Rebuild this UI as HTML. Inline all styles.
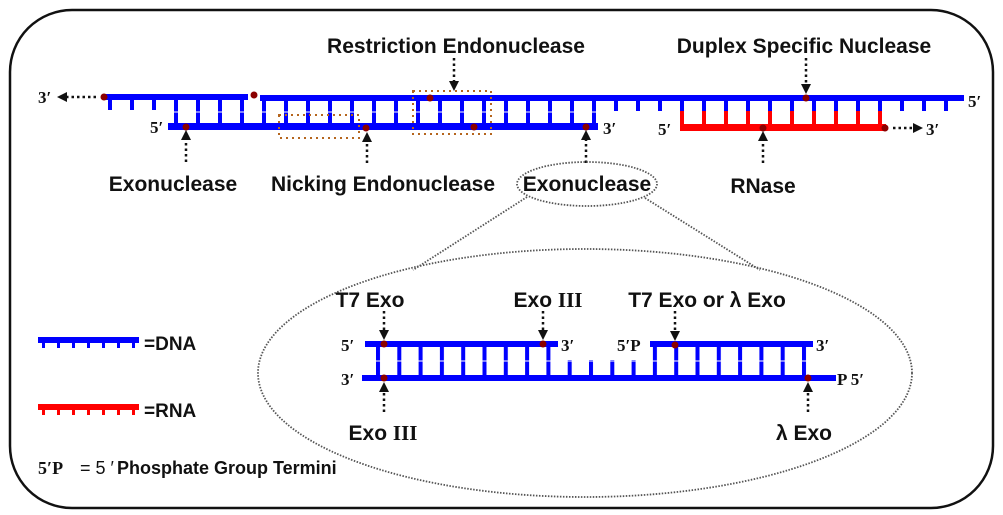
<!DOCTYPE html>
<html><head><meta charset="utf-8"><style>
html,body{margin:0;padding:0;background:#fff;}
svg{display:block;}
.l{font-family:"Liberation Sans",Arial,sans-serif;font-weight:bold;font-size:21px;fill:#111;}
.p{font-family:"Liberation Serif",serif;font-weight:bold;font-size:17px;fill:#111;}
</style></head><body>
<svg width="1003" height="515" viewBox="0 0 1003 515" xmlns="http://www.w3.org/2000/svg">
<defs>
<pattern id="tb" patternUnits="userSpaceOnUse" x="108" y="0" width="22" height="600"><rect x="0" y="0" width="4" height="600" fill="#0000ff"/></pattern>
<pattern id="tr" patternUnits="userSpaceOnUse" x="108" y="0" width="22" height="600"><rect x="0" y="0" width="4" height="600" fill="#ff0000"/></pattern>
<pattern id="ti" patternUnits="userSpaceOnUse" x="376" y="0" width="21.3" height="600"><rect x="0" y="0" width="4" height="600" fill="#0000ff"/></pattern>
<pattern id="tl" patternUnits="userSpaceOnUse" x="42" y="0" width="15" height="600"><rect x="0" y="0" width="3" height="600" fill="#0000ff"/></pattern>
<pattern id="tlr" patternUnits="userSpaceOnUse" x="42" y="0" width="15" height="600"><rect x="0" y="0" width="3" height="600" fill="#ff0000"/></pattern>
<marker id="ah" markerWidth="10" markerHeight="10" refX="5" refY="5" orient="auto" markerUnits="userSpaceOnUse"><path d="M0,0 L10,5 L0,10 z" fill="#111"/></marker>
</defs>
<rect x="10" y="10" width="983" height="498" rx="62" ry="62" fill="none" stroke="#111" stroke-width="2.5"/>

<rect x="108" y="98" width="140" height="12" fill="url(#tb)"/>
<rect x="170" y="98" width="428" height="28" fill="url(#tb)"/>
<rect x="598" y="98" width="82" height="13" fill="url(#tb)"/>
<rect x="680" y="98" width="210" height="13" fill="url(#tb)"/>
<rect x="680" y="111" width="210" height="15" fill="url(#tr)"/>
<rect x="890" y="98" width="70" height="13" fill="url(#tb)"/>
<line x1="170" y1="112" x2="598" y2="112" stroke="#fff" stroke-width="1"/>
<rect x="103" y="94" width="145" height="6" fill="#0000ff"/>
<rect x="260" y="95" width="704" height="6" fill="#0000ff"/>
<rect x="168" y="123" width="430" height="7" fill="#0000ff"/>
<rect x="680" y="124" width="206" height="7" fill="#ff0000"/>
<g fill="#8b0000">
<circle cx="104" cy="97" r="3.5"/><circle cx="254" cy="95" r="3.5"/><circle cx="186" cy="127" r="3.5"/>
<circle cx="366" cy="128" r="3.5"/><circle cx="430" cy="98" r="3.5"/><circle cx="474" cy="127" r="3.5"/>
<circle cx="586" cy="127" r="3.5"/><circle cx="806" cy="98" r="3.5"/><circle cx="763" cy="128" r="3.5"/><circle cx="885" cy="128" r="3.5"/>
</g>
<g fill="none" stroke="#b5651d" stroke-width="2" stroke-dasharray="2,4">
<rect x="413" y="91" width="78" height="43"/>
<rect x="279" y="115" width="80" height="23"/>
</g>
<g stroke="#111" stroke-width="2.5" stroke-dasharray="2.5,3" fill="none" marker-end="url(#ah)">
<line x1="96" y1="97" x2="62" y2="97"/>
<line x1="893" y1="128" x2="918" y2="128"/>
<line x1="454" y1="58" x2="454" y2="86"/>
<line x1="806" y1="58" x2="806" y2="89"/>
<line x1="186" y1="162" x2="186" y2="135"/>
<line x1="367" y1="163" x2="367" y2="137"/>
<line x1="586" y1="163" x2="586" y2="135"/>
<line x1="763" y1="163" x2="763" y2="136"/>
</g>
<text class="p" x="38" y="103">3′</text>
<text class="p" x="150" y="133">5′</text>
<text class="p" x="603" y="134">3′</text>
<text class="p" x="658" y="135">5′</text>
<text class="p" x="926" y="135">3′</text>
<text class="p" x="968" y="107">5′</text>

<text class="l" x="456" y="53" text-anchor="middle">Restriction Endonuclease</text>
<text class="l" x="804" y="53" text-anchor="middle">Duplex Specific Nuclease</text>
<text class="l" x="173" y="191" text-anchor="middle">Exonuclease</text>
<text class="l" x="383" y="191" text-anchor="middle">Nicking Endonuclease</text>
<text class="l" x="587" y="191" text-anchor="middle">Exonuclease</text>
<text class="l" x="763" y="193" text-anchor="middle">RNase</text>

<g fill="none" stroke="#555" stroke-width="1.8" stroke-dasharray="1.5,1.5">
<ellipse cx="587" cy="184" rx="70" ry="22"/>
<line x1="527" y1="197" x2="413" y2="270"/>
<line x1="645" y1="198" x2="760" y2="270"/>
<ellipse cx="585" cy="373" rx="327" ry="124"/>
</g>

<rect x="376" y="344" width="180" height="33" fill="url(#ti)"/>
<rect x="556" y="360" width="96" height="17" fill="url(#ti)"/>
<rect x="652" y="344" width="162" height="33" fill="url(#ti)"/>
<line x1="370" y1="361" x2="820" y2="361" stroke="#fff" stroke-width="1"/>
<rect x="365" y="341" width="193" height="6" fill="#0000ff"/>
<rect x="650" y="341" width="163" height="6" fill="#0000ff"/>
<rect x="362" y="375" width="474" height="6" fill="#0000ff"/>
<g fill="#8b0000">
<circle cx="384" cy="344" r="3.5"/><circle cx="543" cy="344" r="3.5"/><circle cx="675" cy="345" r="3.5"/>
<circle cx="384" cy="378" r="3.5"/><circle cx="808" cy="378" r="3.5"/>
</g>
<g stroke="#111" stroke-width="2.5" stroke-dasharray="2.5,3" fill="none" marker-end="url(#ah)">
<line x1="384" y1="311" x2="384" y2="335"/>
<line x1="543" y1="311" x2="543" y2="335"/>
<line x1="675" y1="311" x2="675" y2="336"/>
<line x1="384" y1="412" x2="384" y2="387"/>
<line x1="808" y1="412" x2="808" y2="387"/>
</g>
<text class="p" x="341" y="351">5′</text>
<text class="p" x="341" y="385">3′</text>
<text class="p" x="561" y="351">3′</text>
<text class="p" x="617" y="351">5′P</text>
<text class="p" x="816" y="351">3′</text>
<text class="p" x="837" y="385">P 5′</text>
<text class="l" x="370" y="307" text-anchor="middle">T7 Exo</text>
<text class="l" x="548" y="307" text-anchor="middle">Exo <tspan font-family="Liberation Serif,serif">III</tspan></text>
<text class="l" x="707" y="307" text-anchor="middle">T7 Exo or  λ  Exo</text>
<text class="l" x="383" y="440" text-anchor="middle">Exo <tspan font-family="Liberation Serif,serif">III</tspan></text>
<text class="l" x="804" y="440" text-anchor="middle">λ  Exo</text>

<rect x="38" y="337" width="101" height="6" fill="#0000ff"/>
<rect x="42" y="342" width="95" height="6" fill="url(#tl)"/>
<text class="l" x="144" y="350" style="font-size:19px">=DNA</text>
<rect x="38" y="404" width="101" height="6" fill="#ff0000"/>
<rect x="42" y="409" width="95" height="6" fill="url(#tlr)"/>
<text class="l" x="144" y="417" style="font-size:19px">=RNA</text>
<text class="p" x="38" y="474" style="font-size:18px">5′P</text>
<text class="l" x="80" y="474" style="font-size:18px;font-weight:normal">= 5 ′</text>
<text class="l" x="117" y="474" style="font-size:18px">Phosphate Group Termini</text>
</svg>
</body></html>
